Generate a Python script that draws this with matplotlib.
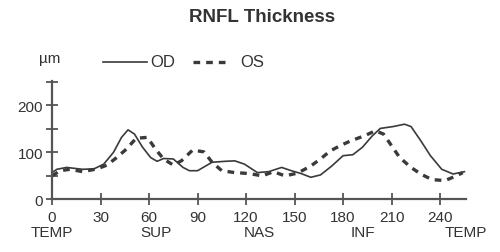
import matplotlib
matplotlib.use("Agg")
import matplotlib.pyplot as plt

# RNFL thickness profiles (um)
od_x = [0, 3, 9, 19, 26, 32, 38, 43, 47, 51, 56, 61, 65, 69, 75, 81, 85, 90,
        99, 107, 113, 119, 127, 134, 142, 148, 154, 160, 166, 173, 180, 186,
        192, 198, 203, 211, 218, 222, 228, 234, 241, 248, 255]
od_y = [57, 64, 68, 64, 65, 75, 100, 132, 148, 139, 111, 89, 81, 87, 86, 68, 61, 61,
        79, 81, 82, 75, 57, 59, 68, 61, 55, 47, 52, 71, 93, 95,
        111, 135, 151, 155, 160, 155, 125, 93, 64, 54, 59]

os_x = [0, 5, 11, 19, 28, 34, 40, 46, 52, 59, 64, 69, 75, 80, 87, 94, 99, 105,
        113, 122, 130, 137, 144, 152, 160, 166, 172, 178, 185, 193, 200, 205,
        210, 215, 222, 228, 235, 243, 250, 254]
os_y = [50, 61, 64, 59, 65, 73, 89, 107, 130, 132, 107, 86, 73, 82, 105, 101, 79, 61,
        57, 55, 50, 59, 50, 56, 71, 86, 103, 114, 125, 135, 146, 139,
        114, 89, 68, 54, 42, 40, 50, 57]

x_ticks = [0, 30, 60, 90, 120, 150, 180, 210, 240]
sector_pos = [0, 64, 128, 192, 256]
sector_names = ["TEMP", "SUP", "NAS", "INF", "TEMP"]

plt.rcParams["font.family"] = ["Liberation Sans", "DejaVu Sans"]
ink = "#3a3a3a"
txt = "#333333"

fig = plt.figure(figsize=(5.0, 2.53), dpi=100)
ax = fig.add_axes([0.104, 0.208, 0.828, 0.468])

ax.plot(od_x, od_y, color=ink, lw=1.2, clip_on=False)
ax.plot(os_x, os_y, color=ink, lw=2.4, dashes=(2.0, 1.8), clip_on=False)

ax.set_xlim(0, 256)
ax.set_ylim(0, 252)
for s in ("top", "right"):
    ax.spines[s].set_visible(False)
for s in ("left", "bottom"):
    ax.spines[s].set_color("#555555")
    ax.spines[s].set_linewidth(1.6)

ax.set_xticks(x_ticks)
ax.set_xticklabels([str(t) for t in x_ticks])
ax.set_yticks([0, 100, 200])
ax.set_yticks([50, 150, 250], minor=True)
ax.tick_params(direction="inout", length=9, width=1.3, color="#555555",
               labelsize=11, labelcolor=txt)
ax.tick_params(axis="x", pad=3)
ax.tick_params(axis="y", pad=2)
ax.tick_params(which="minor", direction="inout", length=9, width=1.3, color="#555555")

for p, name in zip(sector_pos, sector_names):
    ax.annotate(name, xy=(p, 0), xycoords=("data", "axes fraction"),
                xytext=(0, -23.5), textcoords="offset points",
                ha="center", va="center", fontsize=11, color=txt)

fig.text(0.524, 0.929, "RNFL Thickness", ha="center", va="center",
         fontsize=13.5, fontweight="bold", color=txt)
fig.text(0.1, 0.767, "µm", ha="center", va="center", fontsize=11, color=txt)

# legend drawn by hand in figure coords
fig.add_artist(plt.Line2D([0.206, 0.294], [0.751, 0.751], color=ink, lw=1.2))
fig.text(0.30, 0.751, "OD", ha="left", va="center", fontsize=12, color=txt)
fig.add_artist(plt.Line2D([0.386, 0.456], [0.751, 0.751], color=ink, lw=2.4,
                          dashes=(2.0, 1.8)))
fig.text(0.48, 0.751, "OS", ha="left", va="center", fontsize=12, color=txt)

fig.savefig("out.png", dpi=100)
